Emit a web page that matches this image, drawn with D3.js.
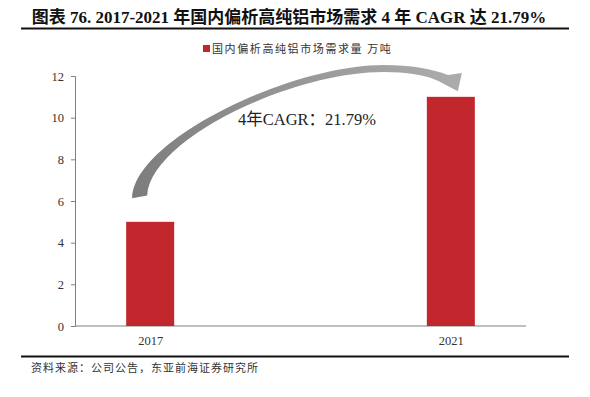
<!DOCTYPE html>
<html>
<head>
<meta charset="utf-8">
<script src="https://cdn.jsdelivr.net/npm/d3@7"></script>
<style>
  body { margin: 0; background: #fff; }
  svg { display: block; }
  text { font-family: "Liberation Serif", "Times New Roman", "Noto Sans CJK SC", serif; }
</style>
</head>
<body>
<div id="chart"></div>
<script>
// data
const years = ['2017', '2021'];
const demand = [5, 11];
const yTicks = [0, 2, 4, 6, 8, 10, 12];
const seriesName = '国内偏析高纯铝市场需求量 万吨';
const title = '图表 76. 2017-2021 年国内偏析高纯铝市场需求 4 年 CAGR 达 21.79%';
const cagrLabel = '4年CAGR：21.79%';
const source = '资料来源：公司公告，东亚前海证券研究所';

const width = 590, height = 397;
const plot = { left: 75, right: 526, top: 76, bottom: 326 };
const barColor = '#c1272d';

const svg = d3.select('#chart').append('svg')
  .attr('width', width)
  .attr('height', height);

// title + rule
svg.append('text')
  .attr('x', 289).attr('y', 23)
  .attr('text-anchor', 'middle')
  .style('font-size', '17px')
  .style('font-weight', 'bold')
  .attr('fill', '#111')
  .text(title);

svg.append('line')
  .attr('x1', 21).attr('x2', 569)
  .attr('y1', 28.5).attr('y2', 28.5)
  .attr('stroke', '#111').attr('stroke-width', 2);

// legend
svg.append('rect')
  .attr('x', 203).attr('y', 45)
  .attr('width', 7).attr('height', 7)
  .attr('fill', barColor);

svg.append('text')
  .attr('x', 212).attr('y', 52.5)
  .style('font-family', '"Noto Sans CJK SC", sans-serif')
  .style('font-size', '11px')
  .style('letter-spacing', '1.6px')
  .attr('fill', '#333')
  .text(seriesName);

// scales
const x = d3.scalePoint()
  .domain(years)
  .range([plot.left, plot.right])
  .padding(0.25);

const y = d3.scaleLinear()
  .domain([0, 12])
  .range([plot.bottom, plot.top]);

// y axis
const yAxis = svg.append('g')
  .attr('transform', 'translate(' + plot.left + ',0)')
  .call(d3.axisLeft(y).tickValues(yTicks).tickSize(4).tickPadding(7));
yAxis.select('.domain').attr('stroke', '#808080');
yAxis.selectAll('.tick line').attr('stroke', '#808080');
yAxis.selectAll('.tick text')
  .style('font-family', '"Liberation Serif", serif')
  .style('font-size', '12.5px')
  .attr('fill', '#333');

// x axis
const xAxis = svg.append('g')
  .attr('transform', 'translate(0,' + plot.bottom + ')')
  .call(d3.axisBottom(x).tickSize(0).tickPadding(10));
xAxis.select('.domain')
  .attr('d', 'M' + plot.left + ',0H' + plot.right)
  .attr('stroke', '#808080');
xAxis.selectAll('.tick text')
  .style('font-family', '"Liberation Serif", serif')
  .style('font-size', '12.5px')
  .attr('fill', '#333');

// bars
const barW = 48;
svg.selectAll('.bar')
  .data(years)
  .enter()
  .append('rect')
  .attr('class', 'bar')
  .attr('x', d => x(d) - barW / 2)
  .attr('y', (d, i) => y(demand[i]))
  .attr('width', barW)
  .attr('height', (d, i) => y(0) - y(demand[i]))
  .attr('fill', barColor);

// curved growth arrow, placed in data space
const p = (cat, dx, v) => (x(cat) + dx) + ',' + y(v);
const a = years[0], b = years[1];
const arrowPath =
  'M' + p(a, -18, 6.13) +
  'C' + p(a, -17, 8.93) + ' ' + p(a, 140, 12.53) + ' ' + p(b, -67, 12.53) +
  'C' + p(b, -40, 12.53) + ' ' + p(b, -18, 12.34) + ' ' + p(b, -3, 12.05) +
  'L' + p(b, 11, 12.14) +
  'L' + p(b, 7, 11.27) +
  'L' + p(b, -12, 11.75) +
  'C' + p(b, -25, 12.05) + ' ' + p(b, -45, 12.19) + ' ' + p(b, -67, 12.19) +
  'C' + p(a, 140, 12.19) + ' ' + p(a, 0, 8.93) + ' ' + p(a, -3, 6.27) +
  'Z';

const grad = svg.append('defs').append('linearGradient')
  .attr('id', 'arrowGrad')
  .attr('gradientUnits', 'userSpaceOnUse')
  .attr('x1', x(a) - 10).attr('y1', y(6.2))
  .attr('x2', x(b)).attr('y2', y(12));
grad.append('stop').attr('offset', '0%').attr('stop-color', '#7d7d7d');
grad.append('stop').attr('offset', '100%').attr('stop-color', '#ababab');

svg.append('path')
  .attr('d', arrowPath)
  .attr('fill', 'url(#arrowGrad)');

svg.append('text')
  .attr('x', 238).attr('y', 125)
  .style('font-size', '16.5px')
  .attr('fill', '#222')
  .text(cagrLabel);

// bottom rule + source
svg.append('line')
  .attr('x1', 21).attr('x2', 569)
  .attr('y1', 356.5).attr('y2', 356.5)
  .attr('stroke', '#111').attr('stroke-width', 2);

svg.append('text')
  .attr('x', 31).attr('y', 372)
  .style('font-family', '"Noto Sans CJK SC", sans-serif')
  .style('font-size', '11px')
  .style('letter-spacing', '1px')
  .attr('fill', '#333')
  .text(source);
</script>
</body>
</html>
